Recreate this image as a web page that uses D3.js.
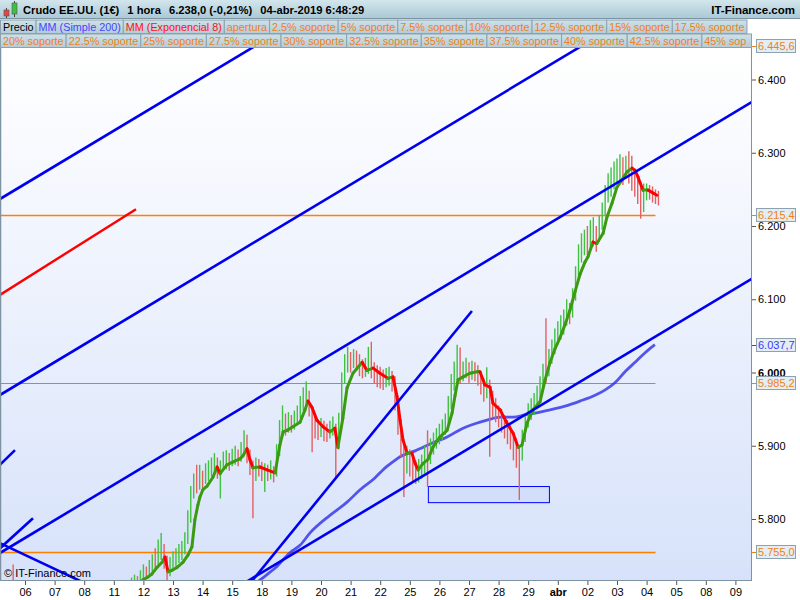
<!DOCTYPE html>
<html><head><meta charset="utf-8">
<script src="https://cdn.jsdelivr.net/npm/d3@7"></script>
<style>body{margin:0;background:#fff;} svg{display:block;font-family:Arial,"Liberation Sans",sans-serif;}</style>
</head><body><svg id="c" width="800" height="600"></svg>
<script>
// ---------- DATA ----------
const dayLabels = ["06","07","08","11","12","13","14","15","18","19","20","21","22","25","26","27","28","29","abr","02","03","04","05","08","09"];
const priceTicks = [5.8, 5.9, 6.0, 6.1, 6.2, 6.3, 6.4];
const titleParts = ["Crudo EE.UU. (1€)", "1 hora", "6.238,0 (-0,21%)", "04-abr-2019 6:48:29"];
const legendRow1 = ["Precio","MM (Simple 200)","MM (Exponencial 8)","apertura","2.5% soporte","5% soporte","7.5% soporte","10% soporte","12.5% soporte","15% soporte","17.5% soporte"];
const legendRow2 = ["20% soporte","22.5% soporte","25% soporte","27.5% soporte","30% soporte","32.5% soporte","35% soporte","37.5% soporte","40% soporte","42.5% soporte","45% soporte"];

// hourly-ish price bars (trading-day units, 0 = 06 mar)
const candleStart = -0.4, candleStep = 0.1, firstOpen = 5.715;
const closes = [
5.700,5.694,5.688,5.682,5.678,5.684,5.690,5.683,5.672,5.666,
5.661,5.668,5.673,5.678,5.670,5.662,5.656,5.650,5.646,5.652,
5.641,5.636,5.631,5.628,5.634,5.640,5.648,5.655,5.661,5.668,
5.672,5.677,5.681,5.675,5.683,5.688,5.691,5.695,5.700,
5.705,5.712,5.718,5.714,5.722,5.730,5.726,5.735,5.742,5.738,
5.752,5.760,5.740,5.728,5.735,5.742,5.748,5.752,5.758,5.772,
5.800,5.835,5.850,5.846,5.858,5.853,5.862,5.868,5.872,5.880,
5.866,5.872,5.878,5.882,5.878,5.884,5.886,5.882,5.892,5.900,
5.890,5.872,5.868,5.874,5.870,5.866,5.868,5.864,5.866,5.862,
5.892,5.925,5.930,5.926,5.932,5.930,5.936,5.942,5.955,5.965,
5.972,5.950,5.932,5.925,5.922,5.926,5.920,5.918,5.922,5.928,
5.900,5.935,5.990,6.010,6.020,6.015,6.022,6.018,6.010,6.004,
6.008,6.012,6.005,6.000,5.996,5.994,5.990,5.994,5.996,5.988,
5.960,5.930,5.900,5.880,5.885,5.880,5.870,5.862,5.868,5.872,
5.880,5.876,5.895,5.905,5.910,5.918,5.922,5.930,5.955,5.985,
6.000,6.005,5.998,6.002,6.006,6.000,6.004,6.002,5.995,5.985,
5.975,5.980,5.970,5.955,5.948,5.940,5.935,5.925,5.918,5.912,
5.900,5.890,5.885,5.910,5.930,5.945,5.952,5.958,5.970,5.985,
6.002,5.998,6.022,6.035,6.048,6.058,6.066,6.074,6.090,6.082,
6.105,6.135,6.160,6.172,6.180,6.176,6.185,6.192,6.182,6.195,
6.218,6.240,6.255,6.262,6.270,6.276,6.280,6.272,6.285,6.276,
6.270,6.262,6.250,6.232,6.245,6.248,6.246,6.244,6.240,6.238];
const highs = [
5.738,5.702,5.698,5.692,5.688,5.692,5.699,5.694,5.684,5.676,
5.672,5.676,5.682,5.686,5.680,5.672,5.666,5.660,5.656,5.660,
5.652,5.646,5.640,5.638,5.642,5.650,5.656,5.664,5.670,5.676,
5.681,5.686,5.690,5.686,5.692,5.697,5.700,5.704,5.708,
5.712,5.720,5.724,5.722,5.730,5.738,5.735,5.744,5.752,5.760,
5.772,5.781,5.766,5.750,5.748,5.756,5.760,5.766,5.770,5.782,
5.812,5.845,5.862,5.874,5.874,5.866,5.876,5.880,5.884,5.890,
5.884,5.880,5.892,5.894,5.890,5.896,5.900,5.895,5.905,5.921,
5.915,5.895,5.880,5.884,5.882,5.878,5.876,5.874,5.880,5.872,
5.902,5.935,5.955,5.944,5.946,5.942,5.948,5.955,5.968,5.980,
5.988,5.975,5.955,5.940,5.936,5.938,5.934,5.930,5.934,5.940,
5.930,5.945,6.000,6.025,6.035,6.028,6.032,6.030,6.025,6.018,
6.020,6.035,6.042,6.014,6.010,6.008,6.004,6.006,6.008,6.002,
5.995,5.965,5.935,5.905,5.900,5.895,5.888,5.880,5.882,5.888,
5.900,5.921,5.910,5.918,5.924,5.930,5.936,5.944,5.968,5.998,
6.015,6.038,6.034,6.015,6.020,6.014,6.016,6.014,6.010,6.002,
5.992,6.007,5.990,5.975,5.965,5.955,5.950,5.942,5.935,5.928,
5.918,5.910,5.900,5.922,5.942,5.958,5.965,5.972,5.982,5.995,
6.012,6.074,6.032,6.045,6.060,6.070,6.078,6.086,6.100,6.095,
6.115,6.145,6.175,6.190,6.195,6.200,6.208,6.212,6.200,6.215,
6.232,6.256,6.272,6.280,6.288,6.292,6.298,6.294,6.296,6.302,
6.296,6.278,6.266,6.255,6.258,6.258,6.256,6.254,6.250,6.248];
const lows = [
5.690,5.684,5.678,5.672,5.668,5.672,5.680,5.674,5.662,5.656,
5.652,5.658,5.664,5.668,5.660,5.652,5.646,5.640,5.636,5.642,
5.632,5.626,5.622,5.618,5.624,5.630,5.638,5.645,5.652,5.658,
5.662,5.668,5.672,5.666,5.674,5.678,5.682,5.686,5.690,
5.698,5.700,5.706,5.705,5.710,5.716,5.718,5.722,5.728,5.730,
5.736,5.744,5.732,5.716,5.722,5.730,5.735,5.740,5.744,5.752,
5.766,5.795,5.828,5.835,5.840,5.842,5.848,5.852,5.858,5.862,
5.855,5.828,5.866,5.868,5.866,5.872,5.874,5.872,5.878,5.886,
5.876,5.860,5.801,5.852,5.858,5.852,5.837,5.852,5.854,5.850,
5.858,5.886,5.912,5.914,5.918,5.918,5.922,5.928,5.938,5.948,
5.955,5.940,5.891,5.910,5.908,5.912,5.906,5.905,5.910,5.914,
5.857,5.895,5.930,5.985,6.000,6.000,6.006,6.002,5.995,5.992,
5.994,5.998,5.992,5.985,5.980,5.978,5.976,5.980,5.982,5.974,
5.948,5.915,5.885,5.830,5.862,5.858,5.852,5.848,5.850,5.855,
5.862,5.844,5.875,5.888,5.896,5.902,5.908,5.915,5.925,5.950,
5.975,5.990,5.985,5.988,5.992,5.986,5.990,5.988,5.982,5.970,
5.960,5.965,5.885,5.938,5.932,5.925,5.918,5.910,5.902,5.895,
5.880,5.870,5.826,5.880,5.905,5.925,5.935,5.942,5.950,5.965,
5.980,5.985,5.995,6.012,6.025,6.038,6.045,6.052,6.064,6.066,
6.075,6.098,6.128,6.150,6.160,6.160,6.168,6.172,6.165,6.178,
6.195,6.215,6.232,6.240,6.250,6.258,6.262,6.256,6.264,6.258,
6.248,6.240,6.230,6.210,6.219,6.235,6.236,6.232,6.230,6.228];

// MM (Exponencial 8)
const emaDay = [3.38,3.99,4.16,4.29,4.46,4.63,4.73,4.83,4.97,5.14,5.34,5.51,5.64,5.74,5.84,5.91,6.01,6.15,6.35,6.49,6.59,6.82,7.03,7.26,7.36,7.50,7.60,7.70,7.94,8.18,8.45,8.61,8.72,8.85,9.05,9.29,9.46,9.56,9.70,9.86,10.07,10.30,10.47,10.57,10.74,10.88,11.08,11.39,11.55,11.76,11.99,12.26,12.43,12.57,12.67,12.77,12.91,13.07,13.18,13.28,13.45,13.61,13.78,14.02,14.26,14.43,14.53,14.63,14.80,15.03,15.27,15.37,15.54,15.71,15.81,16.05,16.28,16.49,16.66,16.79,16.96,17.16,17.40,17.57,17.74,17.91,18.07,18.24,18.41,18.58,18.75,18.92,19.02,19.19,19.32,19.53,19.66,19.83,20.00,20.17,20.34,20.51,20.61,20.71,20.78,20.88,21.05,21.22,21.35];
const emaPrice = [5.689,5.717,5.721,5.725,5.734,5.741,5.748,5.728,5.730,5.734,5.741,5.751,5.762,5.799,5.819,5.830,5.840,5.845,5.857,5.871,5.862,5.874,5.878,5.882,5.886,5.896,5.881,5.870,5.871,5.867,5.863,5.901,5.919,5.921,5.926,5.932,5.949,5.961,5.952,5.935,5.926,5.919,5.924,5.898,5.938,5.979,5.999,6.014,6.003,6.006,5.999,5.992,5.994,5.967,5.935,5.908,5.890,5.890,5.876,5.867,5.876,5.881,5.898,5.912,5.921,5.945,5.969,5.990,5.994,5.999,6.001,6.001,5.983,5.980,5.958,5.949,5.931,5.917,5.898,5.901,5.931,5.949,5.960,5.990,6.014,6.033,6.047,6.065,6.085,6.110,6.134,6.151,6.158,6.178,6.176,6.190,6.212,6.231,6.253,6.263,6.274,6.279,6.276,6.267,6.259,6.249,6.249,6.245,6.242];

// MM (Simple 200)
const smaDay = [7.60,8.01,8.45,8.95,9.29,9.63,10.30,10.88,11.32,11.82,12.09,12.43,12.67,13.18,13.78,14.26,14.70,15.20,15.61,16.05,16.49,16.89,17.40,17.74,18.24,18.75,19.26,19.59,19.93,20.27,20.61,20.95,21.28];
const smaPrice = [5.706,5.719,5.733,5.754,5.764,5.781,5.805,5.823,5.840,5.856,5.867,5.878,5.885,5.893,5.904,5.912,5.922,5.930,5.935,5.939,5.939,5.942,5.946,5.949,5.954,5.961,5.969,5.976,5.986,6.001,6.014,6.027,6.038];
const smaLastValue = 6.0377;

// drawn trend lines: [day1, price1, day2, price2]
const blueTrendLines = [
  [-0.845, 6.2369, 8.28, 6.458],
  [-0.845, 5.9693, 19.43, 6.461],
  [-0.845, 5.7536, 24.83, 6.376],
  [7.43, 5.713, 24.83, 6.1345],
  [7.60, 5.712, 15.10, 6.084],
  [-0.845, 5.874, -0.338, 5.894],
  [-0.845, 5.760, 0.27, 5.801],
  [-0.845, 5.767, 2.20, 5.709]
];
const redTrendLines = [[-0.845, 6.106, 3.75, 6.223]];

// support levels
const orangeLevels = [6.2154, 5.755];
const greyLevel = 5.9852;
const levelEndDay = 21.3;
const topTagValue = 6.4456;
const zoneBox = [13.61, 5.845, 17.70, 5.823];

// ---------- DRAWING ----------
const W = 800, H = 600, L = 1, R = 751, T = 48, B = 580;
const ORANGE = "#f07f20";
const svg = d3.select("#c");
const x = d3.scaleLinear().domain([0, 24]).range([25, 735.4]);
const y = d3.scaleLinear().domain([5.8, 6.4]).range([519, 79.5]);
const loc = d3.formatLocale({decimal: ",", thousands: ".", grouping: [3], currency: ["", ""]});
const fmtTick = v => loc.format(",.0f")(v * 1000);
const fmtTag = v => loc.format(",.1f")(v * 1000);

const defs = svg.append("defs");
const bg = defs.append("linearGradient").attr("id", "bg").attr("x1", 0).attr("y1", 0).attr("x2", 0).attr("y2", 1);
bg.append("stop").attr("offset", "0%").attr("stop-color", "#ffffff");
bg.append("stop").attr("offset", "100%").attr("stop-color", "#d7e2fa");
const hg = defs.append("linearGradient").attr("id", "hg").attr("x1", 0).attr("y1", 0).attr("x2", 0).attr("y2", 1);
hg.append("stop").attr("offset", "0%").attr("stop-color", "#d3e5ed");
hg.append("stop").attr("offset", "100%").attr("stop-color", "#a9c8d5");
const bxg = defs.append("linearGradient").attr("id", "bxg").attr("x1", 0).attr("y1", 0).attr("x2", 0).attr("y2", 1);
bxg.append("stop").attr("offset", "0%").attr("stop-color", "#cfe1e9");
bxg.append("stop").attr("offset", "100%").attr("stop-color", "#b3ccd7");
defs.append("clipPath").attr("id", "plotclip").append("rect").attr("x", L).attr("y", T).attr("width", R - L).attr("height", B - T);

svg.append("rect").attr("width", W).attr("height", H).attr("fill", "#fff");
svg.append("rect").attr("x", L).attr("y", T).attr("width", R - L).attr("height", B - T).attr("fill", "url(#bg)");

const plot = svg.append("g").attr("clip-path", "url(#plotclip)");

// level lines
plot.selectAll("line.lvl").data(orangeLevels).join("line").attr("class", "lvl")
  .attr("x1", L).attr("x2", x(levelEndDay))
  .attr("y1", d => Math.round(y(d)) + 0.5).attr("y2", d => Math.round(y(d)) + 0.5)
  .style("stroke", "#ff7f00").style("stroke-width", "1.3px");
plot.append("line").attr("x1", L).attr("x2", x(levelEndDay))
  .attr("y1", Math.round(y(greyLevel)) + 0.5).attr("y2", Math.round(y(greyLevel)) + 0.5)
  .style("stroke", "#b8865e").style("stroke-width", "1px");

// zone box
plot.append("rect")
  .attr("x", x(zoneBox[0]) + 0.5).attr("y", y(zoneBox[1]) + 0.5)
  .attr("width", x(zoneBox[2]) - x(zoneBox[0])).attr("height", y(zoneBox[3]) - y(zoneBox[1]))
  .attr("fill", "#d3defb").attr("stroke", "#0000ff").attr("stroke-width", 1);

// SMA 200
plot.append("path").datum(smaDay.map((d, i) => [d, smaPrice[i]]))
  .attr("d", d3.line().x(d => x(d[0])).y(d => y(d[1])).curve(d3.curveMonotoneX))
  .attr("fill", "none").attr("stroke", "#2e2ee8").attr("stroke-opacity", 0.8).attr("stroke-width", 2.8);

// candles (high-low bars)
const bars = closes.map((c, i) => ({t: candleStart + i * candleStep, c, h: highs[i], l: lows[i], o: i === 0 ? firstOpen : closes[i - 1]}));
plot.selectAll("line.bar").data(bars).join("line").attr("class", "bar")
  .attr("x1", d => x(d.t)).attr("x2", d => x(d.t))
  .attr("y1", d => y(d.h)).attr("y2", d => y(d.l))
  .attr("stroke", d => d.c >= d.o ? "#3fc23f" : "#e46060").attr("stroke-width", 1.4);

// EMA 8, green rising / red falling
const emaPts = emaDay.map((d, i) => [x(d), y(emaPrice[i])]);
const segs = d3.pairs(emaPts);
plot.selectAll("line.ema").data(segs).join("line").attr("class", "ema")
  .attr("x1", d => d[0][0]).attr("y1", d => d[0][1]).attr("x2", d => d[1][0]).attr("y2", d => d[1][1])
  .attr("stroke", d => d[1][1] <= d[0][1] ? "#3b9a10" : "#ff0000")
  .attr("stroke-width", 3).attr("stroke-linecap", "round");

// trend lines
plot.selectAll("line.tb").data(blueTrendLines).join("line").attr("class", "tb")
  .attr("x1", d => x(d[0])).attr("y1", d => y(d[1])).attr("x2", d => x(d[2])).attr("y2", d => y(d[3]))
  .attr("stroke", "#0000f0").attr("stroke-width", 2.6);
plot.selectAll("line.tr").data(redTrendLines).join("line").attr("class", "tr")
  .attr("x1", d => x(d[0])).attr("y1", d => y(d[1])).attr("x2", d => x(d[2])).attr("y2", d => y(d[3]))
  .attr("stroke", "#ff0000").attr("stroke-width", 2.4);

// copyright
svg.append("text").attr("x", 4).attr("y", 577).attr("font-size", 11).attr("fill", "#000").text("© IT-Finance.com");

// borders
svg.append("line").attr("x1", 0.5).attr("x2", 0.5).attr("y1", T).attr("y2", B).attr("stroke", "#7d93a1").attr("stroke-width", 1.5);
svg.append("line").attr("x1", R + 0.5).attr("x2", R + 0.5).attr("y1", T).attr("y2", B + 1).attr("stroke", "#7d93a1");
svg.append("line").attr("x1", 0).attr("x2", R + 1).attr("y1", B + 0.5).attr("y2", B + 0.5).attr("stroke", "#7d93a1");

// right axis
const ya = svg.append("g").attr("transform", `translate(${R + 1},0)`)
  .call(d3.axisRight(y).tickValues(priceTicks).tickSize(4).tickPadding(2).tickFormat(fmtTick));
ya.select(".domain").remove();
ya.selectAll("line").attr("stroke", "#555");
ya.selectAll("text").attr("font-size", 11).attr("font-family", "Arial,'Liberation Sans',sans-serif").attr("fill", "#000")
  .attr("font-weight", d => d === 6.0 ? "bold" : "normal");

// bottom axis
const xa = svg.append("g").attr("transform", `translate(0,${B + 1})`)
  .call(d3.axisBottom(x).tickValues(d3.range(dayLabels.length)).tickSize(4).tickPadding(3).tickFormat(i => dayLabels[i]));
xa.select(".domain").remove();
xa.selectAll("line").attr("stroke", "#555");
xa.selectAll("text").attr("font-size", 11).attr("font-family", "Arial,'Liberation Sans',sans-serif").attr("fill", "#000")
  .attr("font-weight", i => dayLabels[i] === "abr" ? "bold" : "normal");

// value tags on right axis
function tag(v, color) {
  const yy = Math.round(y(v));
  svg.append("line").attr("x1", R + 1).attr("x2", 756).attr("y1", yy + 0.5).attr("y2", yy + 0.5).attr("stroke", color);
  svg.append("rect").attr("x", 756.5).attr("y", yy - 6.5).attr("width", 39).attr("height", 13)
    .attr("fill", "#e3edf3").attr("stroke", "#8ca2ae");
  svg.append("text").attr("x", 758).attr("y", yy + 4).attr("font-size", 11).attr("fill", color).text(fmtTag(v));
}
tag(smaLastValue, "#3a3aff");
tag(greyLevel, ORANGE);
orangeLevels.forEach(v => tag(v, ORANGE));

// header row 1
svg.append("rect").attr("x", 0).attr("y", 0).attr("width", W).attr("height", 19).attr("fill", "url(#hg)");
svg.append("line").attr("x1", 0).attr("x2", W).attr("y1", 18.5).attr("y2", 18.5).attr("stroke", "#7d93a1");
// candle icon
const ic = svg.append("g");
ic.append("line").attr("x1", 6.5).attr("x2", 6.5).attr("y1", 8).attr("y2", 18).attr("stroke", "#444");
ic.append("rect").attr("x", 4).attr("y", 10).attr("width", 5).attr("height", 6).attr("fill", "#e04848").attr("stroke", "#555").attr("stroke-width", 0.6);
ic.append("line").attr("x1", 14.5).attr("x2", 14.5).attr("y1", 1).attr("y2", 17).attr("stroke", "#444");
ic.append("rect").attr("x", 12).attr("y", 3).attr("width", 5).attr("height", 11).attr("fill", "#40c040").attr("stroke", "#555").attr("stroke-width", 0.6);
const titleX = [23, 124, 167, 257];
let prevEnd = 0;
titleParts.forEach((s, i) => {
  const t = svg.append("text").attr("y", 14).attr("font-size", 11.2).attr("font-weight", "bold").attr("fill", "#000").text(s);
  const px = Math.max(titleX[i], prevEnd + 8);
  t.attr("x", px);
  prevEnd = px + t.node().getComputedTextLength();
});
svg.append("text").attr("x", 795).attr("y", 14).attr("text-anchor", "end").attr("font-size", 11.5).attr("font-weight", "bold").text("IT-Finance.com");

// legend rows (boxes sized to text, cut at the panel's right edge like the reference)
function legendRow(items, top, colorFn) {
  let cx = 0;
  items.forEach((s, i) => {
    if (cx >= R - 2) return;
    const g = svg.append("g");
    const r = g.append("rect").attr("y", top + 0.5).attr("height", 13.5).attr("fill", "url(#bxg)").attr("stroke", "#8ca2ae");
    const t = g.append("text").attr("y", top + 11.3).attr("font-size", 10.8).attr("fill", colorFn(i)).text(s);
    let w = t.node().getComputedTextLength() + 5;
    if (cx + w > R + 1) {
      let str = s;
      while (str.length > 1 && cx + 3 + t.node().getComputedTextLength() > R - 1) {
        str = str.slice(0, -1);
        t.text(str);
      }
      w = R - cx;
    }
    r.attr("x", cx + 0.5).attr("width", w);
    t.attr("x", cx + 3);
    cx += w;
  });
}
legendRow(legendRow1, 19.5, i => i === 0 ? "#000" : i === 1 ? "#4444ff" : i === 2 ? "#ff1010" : ORANGE);
legendRow(legendRow2, 33.5, () => ORANGE);

// top tag drawn last so it overlaps legend row
tag(topTagValue, ORANGE);
</script></body></html>
